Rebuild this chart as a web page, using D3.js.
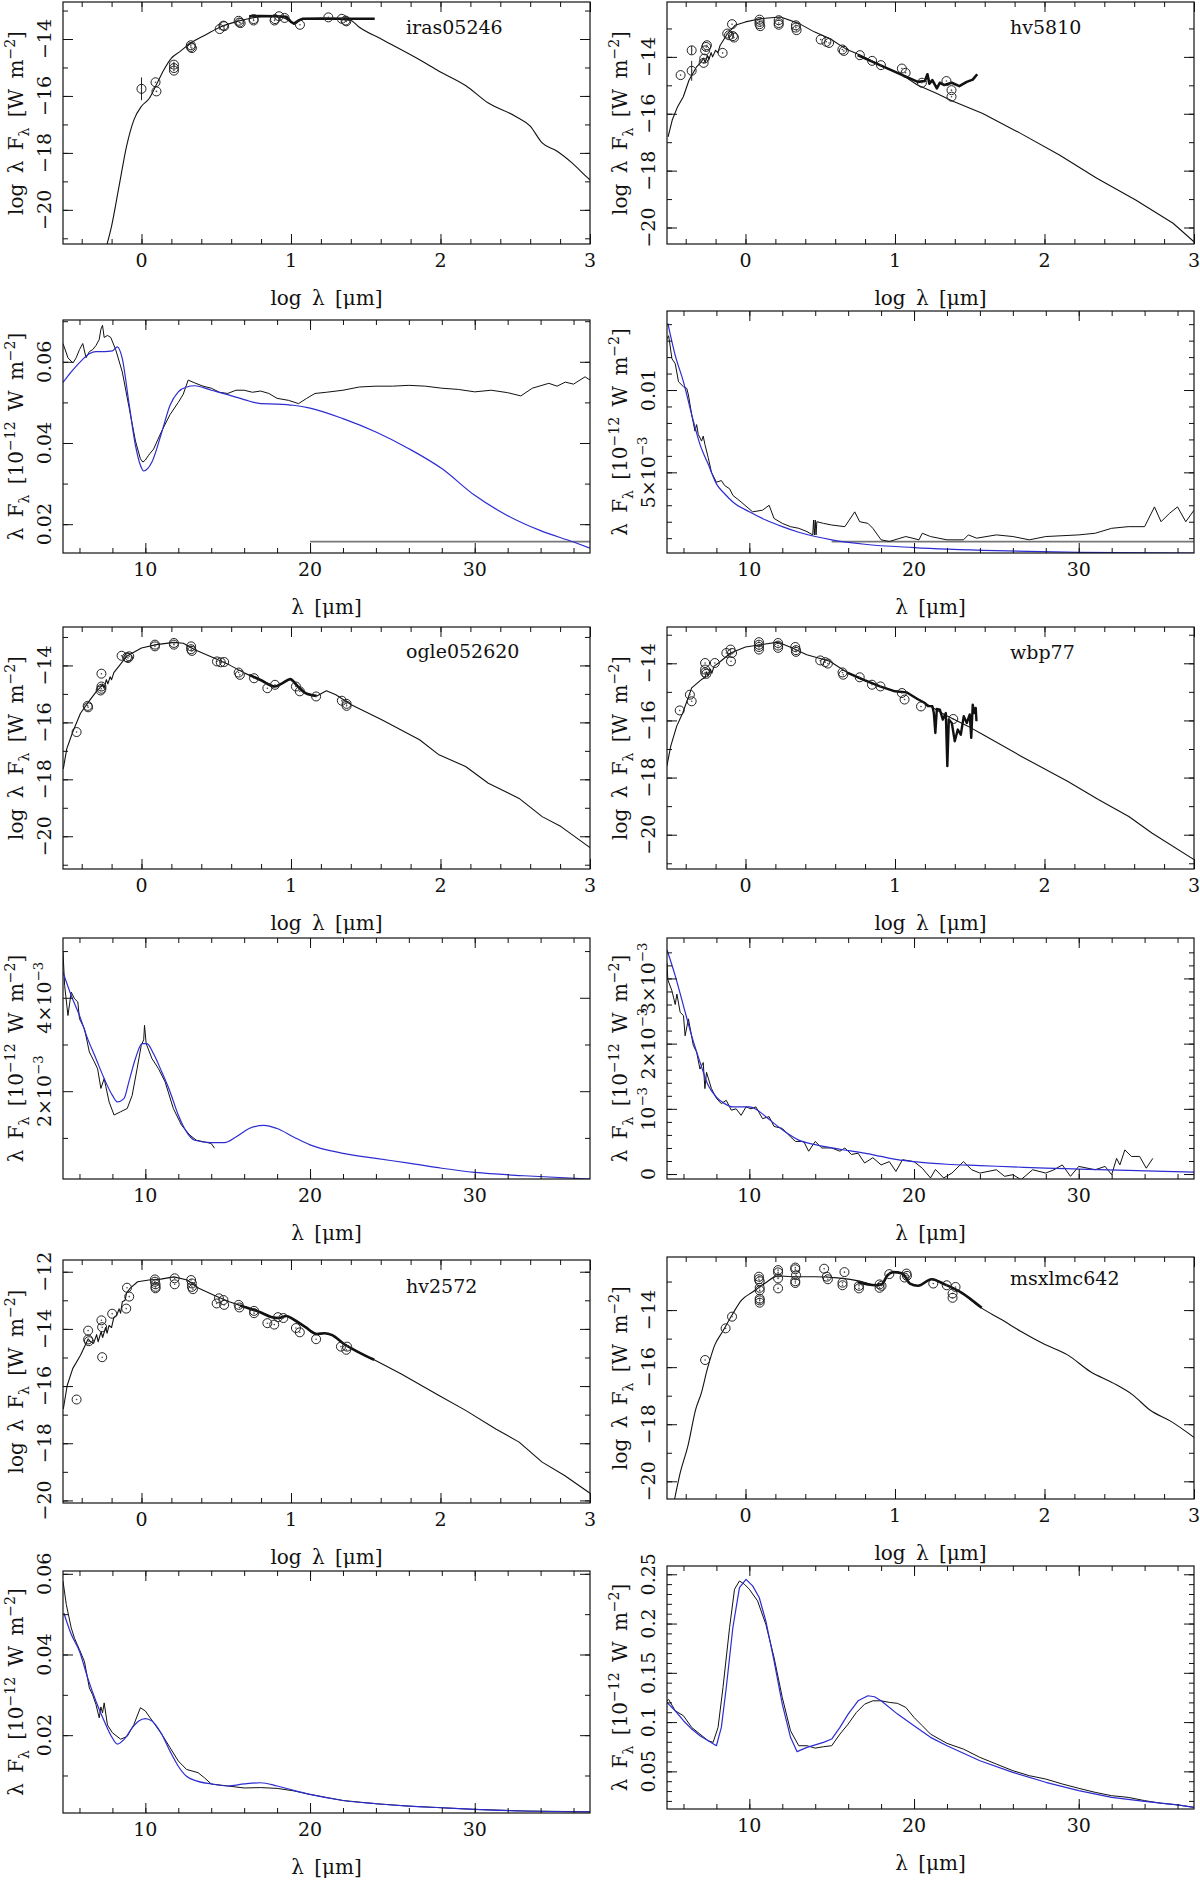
<!DOCTYPE html>
<html>
<head>
<meta charset="utf-8">
<script src="https://cdn.jsdelivr.net/npm/d3@7"></script>
<style>
  body { margin: 0; background: #fff; }
  text { font-family: "DejaVu Serif", "Liberation Serif", serif; fill: #111; }
</style>
</head>
<body>
<svg id="fig" width="1200" height="1881"></svg>
<script>
// ---- iras05246 ----
const irasModel = [[-0.23,-21.2],[-0.2,-20.57],[-0.15,-19.17],[-0.1,-17.77],[-0.05,-16.83],[0,-16.36],[0.05,-16.1],[0.1,-15.6],[0.15,-15.08],[0.2,-14.67],[0.255,-14.45],[0.33,-14.14],[0.43,-13.85],[0.535,-13.56],[0.64,-13.38],[0.74,-13.26],[0.84,-13.2],[0.94,-13.23],[1.0,-13.4],[1.03,-13.46],[1.07,-13.3],[1.2,-13.28],[1.4,-13.35],[1.45,-13.56],[1.61,-14.02],[1.86,-14.73],[1.99,-15.13],[2.17,-15.64],[2.32,-16.25],[2.5,-16.71],[2.6,-17.06],[2.68,-17.65],[2.78,-17.94],[2.88,-18.35],[2.985,-18.88],[3.0,-18.95]];
const irasIRS = [[0.72,-13.2],[0.8,-13.19],[0.9,-13.2],[0.97,-13.22],[1.0,-13.4],[1.02,-13.46],[1.05,-13.35],[1.08,-13.29],[1.2,-13.28],[1.4,-13.29],[1.56,-13.29]];
const irasPhot = [[0.0,-15.75,0.4],[0.094,-15.52,0],[0.1,-15.84,0],[0.217,-14.9,0.1],[0.217,-15.02,0],[0.217,-15.11,0],[0.33,-14.22,0],[0.33,-14.28,0],[0.337,-14.32,0],[0.523,-13.65,0],[0.548,-13.53,0],[0.553,-13.55,0],[0.65,-13.36,0],[0.655,-13.42,0],[0.663,-13.44,0],[0.75,-13.3,0],[0.75,-13.35,0],[0.89,-13.35,0],[0.893,-13.3,0],[0.92,-13.2,0],[0.957,-13.26,0],[1.06,-13.5,0],[1.25,-13.24,0],[1.34,-13.29,0],[1.365,-13.35,0],[1.37,-13.38,0]];
const irasSpec = [[5.0,0.0645],[5.3,0.061],[5.6,0.0597],[5.8,0.061],[6.0,0.063],[6.2,0.0645],[6.4,0.061],[6.6,0.0625],[6.8,0.063],[7.0,0.064],[7.2,0.0655],[7.3,0.068],[7.4,0.069],[7.5,0.066],[7.7,0.0665],[7.9,0.066],[8.2,0.063],[8.6,0.0575],[9.0,0.049],[9.4,0.0405],[9.7,0.0361],[9.85,0.0353],[10.0,0.0358],[10.2,0.037],[10.5,0.0385],[11.0,0.043],[11.5,0.047],[12.0,0.05],[12.3,0.052],[12.6,0.0555],[13.0,0.0548],[13.5,0.054],[14.0,0.0535],[14.5,0.0525],[15.0,0.0522],[15.5,0.053],[16.0,0.053],[16.5,0.0525],[17.0,0.0528],[17.5,0.0522],[18.0,0.051],[18.7,0.0505],[19.3,0.0497],[19.8,0.051],[20.3,0.0522],[21,0.0525],[22,0.053],[23,0.0538],[24,0.054],[25,0.054],[26,0.0542],[27,0.054],[28,0.0535],[29,0.0532],[30,0.0526],[31,0.053],[32,0.0524],[32.8,0.0516],[33.5,0.0535],[34.5,0.0547],[35,0.054],[35.5,0.055],[36,0.0545],[36.7,0.0563],[37,0.0555]];
const irasFit = [[5.0,0.0549],[5.5,0.0575],[6.0,0.0598],[6.6,0.062],[7.0,0.0625],[7.5,0.0625],[8.0,0.0627],[8.3,0.0637],[8.6,0.0608],[9.0,0.05],[9.4,0.0394],[9.7,0.0345],[9.9,0.0331],[10.4,0.0353],[11.0,0.0427],[11.5,0.0493],[12.0,0.0526],[12.5,0.0538],[13.0,0.0541],[14.0,0.053],[15.0,0.0519],[16.0,0.0507],[17.0,0.0497],[18.0,0.0496],[19.0,0.0493],[20.0,0.0486],[22.0,0.046],[24.0,0.0427],[26.0,0.0386],[28.0,0.0337],[30.0,0.0271],[32.0,0.0221],[34.0,0.0184],[36.0,0.0156],[37.0,0.0141]];
const irasLevel = [[20, 0.0157], [37, 0.0157]];

// ---- hv5810 ----
const hv5810Model = [[-0.518,-16.81],[-0.49,-16.22],[-0.454,-15.75],[-0.416,-15.4],[-0.378,-14.82],[-0.327,-14.35],[-0.3,-14.2],[-0.28,-14.05],[-0.27,-14.2],[-0.255,-13.95],[-0.245,-14.1],[-0.23,-13.85],[-0.22,-14.0],[-0.2,-13.77],[-0.185,-13.85],[-0.17,-13.6],[-0.12,-13.18],[-0.07,-12.89],[0,-12.77],[0.107,-12.65],[0.235,-12.6],[0.36,-12.83],[0.46,-13.12],[0.566,-13.36],[0.668,-13.71],[0.77,-13.94],[0.9,-14.29],[1.05,-14.64],[1.15,-14.99],[1.28,-15.29],[1.38,-15.54],[1.587,-15.99],[1.84,-16.69],[2.1,-17.45],[2.35,-18.27],[2.61,-19.03],[2.86,-19.85],[3.0,-20.5]];
const hv5810IRS = [[0.75,-13.94],[0.9,-14.29],[1.05,-14.64],[1.153,-14.88],[1.2,-14.85],[1.217,-14.61],[1.23,-14.94],[1.25,-14.82],[1.28,-15.11],[1.3,-14.91],[1.33,-14.99],[1.38,-14.91],[1.43,-15.03],[1.48,-14.88],[1.52,-14.8],[1.55,-14.61]];
const hv5810Phot = [[-0.434,-14.64,0],[-0.36,-14.49,0.35],[-0.36,-13.77,0.15],[-0.28,-14.21,0],[-0.276,-14.06,0],[-0.27,-13.77,0],[-0.263,-13.65,0],[-0.258,-13.59,0],[-0.153,-13.86,0],[-0.122,-13.18,0],[-0.11,-13.24,0],[-0.09,-12.85,0],[-0.084,-13.27,0.1],[-0.077,-13.32,0],[0.094,-12.69,0],[0.094,-12.77,0],[0.094,-12.85,0],[0.099,-12.92,0],[0.222,-12.71,0],[0.222,-12.81,0],[0.222,-12.87,0],[0.337,-12.89,0],[0.337,-12.97,0],[0.342,-13.06,0],[0.503,-13.39,0],[0.541,-13.47,0],[0.559,-13.51,0],[0.648,-13.74,0],[0.658,-13.79,0],[0.765,-13.94,0],[0.847,-14.14,0],[0.906,-14.29,0],[1.046,-14.41,0],[1.071,-14.56,0],[1.18,-14.91,0],[1.344,-14.85,0],[1.378,-15.17,0],[1.378,-15.4,0]];
const hv5810Spec = [[5.0,0.0131],[5.1,0.0133],[5.3,0.0119],[5.5,0.0116],[5.7,0.0105],[6.0,0.0102],[6.2,0.0101],[6.3,0.0097],[6.5,0.0085],[6.7,0.0075],[6.8,0.0079],[6.9,0.0073],[7.1,0.0069],[7.2,0.0072],[7.3,0.0067],[7.5,0.0059],[7.7,0.005],[8.0,0.0044],[8.3,0.0045],[8.5,0.0042],[8.8,0.004],[9.0,0.0036],[9.5,0.0032],[10.2,0.0026],[10.8,0.0027],[11.2,0.003],[11.5,0.0022],[12.0,0.0019],[12.5,0.0017],[13.0,0.0016],[13.5,0.0014],[13.85,0.0012],[13.9,0.0021],[13.95,0.0012],[14.0,0.0021],[14.05,0.0012],[14.1,0.002],[14.5,0.0019],[15.0,0.0018],[15.8,0.0017],[16.4,0.0026],[16.7,0.002],[17.2,0.0019],[17.5,0.0016],[18.0,0.0009],[18.5,0.0008],[19.5,0.0011],[20.3,0.0009],[20.5,0.0013],[21,0.0011],[22,0.0009],[23,0.0009],[23.3,0.0012],[23.8,0.001],[25,0.0012],[26,0.0011],[27,0.0009],[28,0.0011],[30,0.0012],[31,0.0013],[32,0.0016],[33,0.0017],[34,0.0017],[34.6,0.0029],[35,0.002],[35.5,0.0025],[36,0.0029],[36.5,0.002],[37,0.0027]];
const hv5810Fit = [[5.05,0.01405],[5.5,0.0121],[6.0,0.0105],[6.5,0.0085],[7.0,0.0067],[7.5,0.0055],[8.0,0.0043],[8.5,0.0037],[9.0,0.0032],[10,0.0026],[11,0.0021],[12,0.0017],[13,0.00136],[14,0.0011],[15,0.0009],[17,0.00063],[20,0.00043],[25,0.00024],[30,0.00014],[37,0.0001]];
const hv5810Level = [[15, 0.00079], [37, 0.00079]];

// ---- ogle052620 ----
const ogleModel = [[-0.523,-17.63],[-0.5,-16.93],[-0.46,-16.34],[-0.408,-15.68],[-0.344,-15.21],[-0.3,-14.9],[-0.28,-14.8],[-0.26,-14.65],[-0.25,-14.8],[-0.235,-14.5],[-0.225,-14.65],[-0.21,-14.4],[-0.2,-14.5],[-0.185,-14.25],[-0.153,-14.04],[-0.1,-13.68],[0,-13.39],[0.1,-13.27],[0.217,-13.19],[0.28,-13.22],[0.357,-13.45],[0.485,-13.74],[0.587,-13.98],[0.69,-14.27],[0.79,-14.5],[0.893,-14.74],[0.944,-14.62],[0.995,-14.48],[1.046,-14.74],[1.097,-14.97],[1.173,-15.07],[1.237,-14.89],[1.3,-15.03],[1.403,-15.38],[1.607,-15.91],[1.86,-16.61],[1.99,-17.14],[2.168,-17.55],[2.32,-18.14],[2.526,-18.67],[2.68,-19.31],[2.806,-19.66],[3.0,-20.4]];
const ogleIRS = [[0.72,-14.33],[0.8,-14.52],[0.893,-14.74],[0.944,-14.62],[0.995,-14.48],[1.046,-14.74],[1.097,-14.97],[1.17,-15.07]];
const oglePhot = [[-0.434,-16.34,0],[-0.36,-15.42,0],[-0.357,-15.47,0],[-0.268,-14.29,0],[-0.268,-14.74,0],[-0.268,-14.82,0],[-0.273,-14.88,0],[-0.133,-13.66,0],[-0.097,-13.71,0],[-0.082,-13.68,0],[-0.09,-13.74,0],[0.09,-13.27,0],[0.09,-13.33,0],[0.217,-13.21,0],[0.217,-13.27,0],[0.332,-13.33,0],[0.332,-13.43,0],[0.337,-13.49,0],[0.505,-13.86,0],[0.53,-13.89,0],[0.553,-13.88,0],[0.65,-14.25,0],[0.658,-14.33,0],[0.753,-14.45,0],[0.842,-14.8,0],[0.893,-14.68,0],[1.033,-14.74,0],[1.059,-14.91,0],[1.168,-15.09,0],[1.34,-15.24,0],[1.372,-15.35,0],[1.372,-15.42,0]];
const ogleSpec = [[5.0,4.98e-3],[5.1,4.26e-3],[5.3,3.62e-3],[5.5,4.12e-3],[5.7,3.98e-3],[5.9,3.91e-3],[6.0,3.55e-3],[6.3,3.34e-3],[6.6,2.84e-3],[6.9,2.63e-3],[7.1,2.48e-3],[7.3,2.06e-3],[7.5,2.27e-3],[7.6,2.1e-3],[7.8,1.77e-3],[8.1,1.49e-3],[8.5,1.56e-3],[8.9,1.63e-3],[9.2,1.91e-3],[9.5,2.48e-3],[9.75,2.98e-3],[9.9,3.1e-3],[9.95,3.41e-3],[10.05,3.02e-3],[10.4,2.7e-3],[10.8,2.48e-3],[11.2,2.2e-3],[11.7,1.63e-3],[12.2,1.27e-3],[12.7,1.06e-3],[13.1,0.95e-3],[13.5,0.92e-3],[14.0,0.88e-3],[14.2,0.78e-3]];
const ogleFit = [[5.0,4.55e-3],[5.5,4.05e-3],[6,3.62e-3],[6.5,3.12e-3],[7,2.7e-3],[7.5,2.27e-3],[8,1.91e-3],[8.3,1.77e-3],[8.7,1.84e-3],[9.0,2.2e-3],[9.4,2.7e-3],[9.8,3.02e-3],[10.1,3.02e-3],[10.5,2.8e-3],[11,2.41e-3],[11.5,1.99e-3],[12,1.49e-3],[12.5,1.13e-3],[13,0.95e-3],[14,0.9e-3],[14.8,0.9e-3],[15.5,1.02e-3],[16.3,1.2e-3],[17.2,1.27e-3],[18,1.2e-3],[19,1.02e-3],[20,0.85e-3],[22,0.67e-3],[24,0.56e-3],[26,0.46e-3],[28,0.35e-3],[30,0.26e-3],[33,0.19e-3],[37,0.12e-3]];

// ---- wbp77 ----
const wbpModel = [[-0.526,-17.6],[-0.5,-16.9],[-0.46,-16.2],[-0.42,-15.74],[-0.36,-14.86],[-0.295,-14.57],[-0.27,-14.5],[-0.26,-14.3],[-0.25,-14.45],[-0.235,-14.2],[-0.225,-14.35],[-0.21,-14.1],[-0.18,-13.99],[-0.1,-13.64],[0,-13.43],[0.1,-13.35],[0.218,-13.26],[0.31,-13.46],[0.41,-13.7],[0.564,-13.93],[0.667,-14.28],[0.77,-14.55],[0.897,-14.81],[1.0,-14.98],[1.077,-15.02],[1.18,-15.33],[1.333,-15.8],[1.487,-16.2],[1.59,-16.5],[1.846,-17.26],[2.154,-18.13],[2.36,-18.77],[2.564,-19.36],[2.718,-19.94],[3.0,-20.87]];
const wbpIRS = [[0.68,-14.33],[0.8,-14.6],[0.9,-14.81],[1.0,-14.98],[1.08,-15.02],[1.15,-15.25],[1.2,-15.39],[1.22,-15.5],[1.25,-15.5],[1.26,-15.75],[1.27,-16.44],[1.28,-15.6],[1.3,-15.62],[1.32,-15.97],[1.34,-15.74],[1.35,-17.6],[1.36,-15.97],[1.38,-16.09],[1.4,-16.73],[1.42,-16.32],[1.44,-16.5],[1.46,-15.85],[1.48,-16.09],[1.5,-15.79],[1.51,-16.61],[1.52,-15.45],[1.53,-15.74],[1.54,-15.56],[1.545,-16.03]];
const wbpPhot = [[-0.44,-15.65,0],[-0.372,-15.1,0],[-0.36,-15.33,0],[-0.27,-13.99,0],[-0.27,-14.22,0],[-0.27,-14.32,0],[-0.262,-14.37,0],[-0.205,-13.99,0],[-0.128,-13.64,0],[-0.1,-13.52,0],[-0.09,-13.64,0],[-0.097,-13.93,0],[0.09,-13.26,0],[0.09,-13.35,0],[0.09,-13.43,0],[0.09,-13.52,0],[0.218,-13.29,0],[0.218,-13.38,0],[0.218,-13.46,0],[0.333,-13.43,0],[0.338,-13.54,0],[0.338,-13.6,0],[0.5,-13.9,0],[0.533,-13.96,0],[0.551,-14.01,0],[0.649,-14.32,0],[0.654,-14.4,0],[0.764,-14.49,0],[0.846,-14.75,0],[0.903,-14.81,0],[1.046,-15.04,0],[1.064,-15.27,0],[1.174,-15.51,0],[1.39,-15.95,0]];
const wbpSpec = [[5.0,3.24e-3],[5.05,2.98e-3],[5.3,2.81e-3],[5.5,2.6e-3],[5.6,2.76e-3],[5.8,2.48e-3],[6.0,2.43e-3],[6.1,2.12e-3],[6.3,2.38e-3],[6.6,1.97e-3],[6.8,1.87e-3],[7.0,1.61e-3],[7.2,1.71e-3],[7.3,1.31e-3],[7.4,1.56e-3],[7.7,1.31e-3],[8.0,1.16e-3],[8.3,1.08e-3],[8.6,1.13e-3],[8.9,0.98e-3],[9.2,1.0e-3],[9.5,0.9e-3],[9.8,1.03e-3],[10.1,1.0e-3],[10.4,1.03e-3],[10.8,0.85e-3],[11.2,0.88e-3],[11.5,0.73e-3],[12,0.7e-3],[12.5,0.57e-3],[12.8,0.5e-3],[13.3,0.5e-3],[13.6,0.35e-3],[14,0.5e-3],[14.4,0.4e-3],[15,0.4e-3],[15.5,0.35e-3],[15.8,0.4e-3],[16.2,0.3e-3],[16.6,0.32e-3],[17,0.17e-3],[17.5,0.25e-3],[18,0.14e-3],[18.5,0.19e-3],[18.9,0.04e-3],[19.3,0.22e-3],[20,0.19e-3],[20.5,0.09e-3],[21,-0.06e-3],[21.3,0.07e-3],[21.8,-0.06e-3],[22.3,0.015e-3],[23,0.19e-3],[23.5,0.066e-3],[24,0.015e-3],[25,0.066e-3],[25.5,-0.035e-3],[26,-0.01e-3],[26.5,-0.086e-3],[27.2,0.066e-3],[28,0.015e-3],[28.5,0.066e-3],[29,0.14e-3],[29.5,-0.035e-3],[30,0.117e-3],[31,0.066e-3],[31.6,0.117e-3],[32,-0.01e-3],[32.3,0.24e-3],[32.5,0.14e-3],[32.8,0.37e-3],[33.2,0.27e-3],[33.7,0.27e-3],[34.1,0.09e-3],[34.5,0.24e-3]];
const wbpFit = [[5.0,3.44e-3],[5.5,3.04e-3],[6,2.58e-3],[6.5,2.12e-3],[7,1.72e-3],[7.5,1.36e-3],[8,1.18e-3],[8.5,1.08e-3],[9,1.03e-3],[9.5,1.03e-3],[10,1.03e-3],[10.5,0.98e-3],[11,0.88e-3],[12,0.68e-3],[13,0.52e-3],[14,0.45e-3],[15,0.4e-3],[16,0.36e-3],[17,0.32e-3],[18,0.27e-3],[19,0.22e-3],[20,0.19e-3],[22,0.15e-3],[24,0.13e-3],[26,0.11e-3],[28,0.09e-3],[30,0.076e-3],[33,0.056e-3],[37,0.03e-3]];

// ---- hv2572 ----
const hv2572Model = [[-0.523,-16.8],[-0.497,-15.98],[-0.46,-15.39],[-0.408,-14.92],[-0.357,-14.35],[-0.34,-14.45],[-0.32,-14.5],[-0.3,-14.2],[-0.29,-14.45],[-0.27,-14.1],[-0.26,-14.3],[-0.24,-13.95],[-0.23,-14.15],[-0.217,-13.88],[-0.2,-13.95],[-0.185,-13.6],[-0.166,-13.53],[-0.15,-13.3],[-0.14,-13.45],[-0.128,-13.05],[-0.11,-13.0],[-0.1,-12.75],[-0.077,-12.58],[-0.026,-12.35],[0.05,-12.29],[0.128,-12.26],[0.217,-12.18],[0.306,-12.29],[0.383,-12.58],[0.485,-12.82],[0.587,-13.05],[0.689,-13.23],[0.79,-13.41],[0.867,-13.58],[0.918,-13.62],[0.97,-13.55],[1.02,-13.68],[1.097,-13.94],[1.173,-14.18],[1.224,-14.15],[1.276,-14.22],[1.352,-14.52],[1.454,-14.82],[1.556,-15.08],[1.735,-15.57],[1.99,-16.33],[2.168,-16.85],[2.37,-17.5],[2.526,-17.96],[2.68,-18.66],[2.83,-19.13],[3.0,-19.75]];
const hv2572IRS = [[0.66,-13.18],[0.79,-13.41],[0.867,-13.58],[0.918,-13.62],[0.97,-13.55],[1.02,-13.68],[1.097,-13.94],[1.173,-14.18],[1.224,-14.15],[1.276,-14.22],[1.352,-14.52],[1.454,-14.82],[1.556,-15.08]];
const hv2572Phot = [[-0.434,-16.47,0],[-0.357,-14.06,0],[-0.357,-14.37,0],[-0.352,-14.43,0],[-0.268,-13.7,0],[-0.263,-13.94,0],[-0.263,-14.99,0],[-0.196,-13.47,0],[-0.102,-13.29,0],[-0.097,-12.56,0],[-0.082,-12.87,0],[0.09,-12.27,0],[0.09,-12.35,0],[0.094,-12.44,0],[0.094,-12.53,0],[0.094,-12.58,0],[0.222,-12.23,0],[0.222,-12.44,0],[0.332,-12.29,0],[0.337,-12.41,0],[0.337,-12.53,0],[0.344,-12.61,0],[0.503,-13.11,0],[0.518,-12.93,0],[0.548,-12.99,0],[0.553,-13.16,0],[0.65,-13.16,0],[0.655,-13.25,0],[0.753,-13.37,0],[0.753,-13.45,0],[0.842,-13.8,0],[0.888,-13.85,0],[0.913,-13.59,0],[0.949,-13.62,0],[1.033,-13.97,0],[1.059,-14.12,0],[1.168,-14.36,0],[1.334,-14.62,0],[1.37,-14.73,0],[1.375,-14.62,0]];
const hv2572Spec = [[5.0,0.0582],[5.2,0.0524],[5.5,0.0466],[5.7,0.044],[6.0,0.0412],[6.3,0.0383],[6.6,0.0317],[6.8,0.03],[7.0,0.0276],[7.2,0.0243],[7.3,0.027],[7.4,0.0255],[7.5,0.028],[7.7,0.0225],[8,0.0206],[8.5,0.019],[8.9,0.0197],[9.3,0.0226],[9.7,0.0268],[10.0,0.026],[10.5,0.0231],[11,0.0202],[11.5,0.0169],[12,0.0136],[12.5,0.0115],[13.2,0.0107],[13.6,0.0094],[14,0.0079],[15,0.0074],[16,0.0069],[17,0.007],[18,0.0068],[19,0.0062],[20,0.0053],[22,0.0038],[24,0.003],[26,0.0024],[28,0.002],[30,0.0016],[33,0.0012],[37,0.001]];
const hv2572Fit = [[5.05,0.0503],[5.5,0.045],[6,0.0408],[6.5,0.0342],[7,0.0284],[7.5,0.0235],[8,0.0193],[8.3,0.0178],[8.7,0.0189],[9.2,0.0218],[9.6,0.0235],[10,0.0241],[10.4,0.0235],[11,0.0202],[11.5,0.016],[12,0.0123],[12.5,0.0098],[13,0.0088],[14,0.0079],[15,0.0074],[16,0.0079],[17,0.0082],[18,0.0074],[19,0.0063],[20,0.0053],[22,0.0038],[24,0.003],[26,0.0024],[28,0.002],[30,0.0016],[33,0.0012],[37,0.001]];

// ---- msxlmc642 ----
const msxModel = [[-0.474,-20.62],[-0.436,-19.69],[-0.385,-18.76],[-0.333,-17.48],[-0.295,-16.9],[-0.256,-16.08],[-0.205,-15.22],[-0.154,-14.76],[-0.09,-14.17],[-0.026,-13.65],[0.05,-13.36],[0.128,-13.07],[0.218,-12.8],[0.308,-12.83],[0.462,-12.83],[0.615,-12.87],[0.77,-12.99],[0.87,-13.13],[0.91,-13.1],[0.95,-12.78],[0.987,-12.67],[1.05,-12.72],[1.1,-13.07],[1.154,-13.15],[1.244,-12.92],[1.333,-13.1],[1.436,-13.36],[1.564,-13.88],[1.718,-14.35],[1.846,-14.76],[2.0,-15.2],[2.154,-15.57],[2.308,-16.16],[2.46,-16.56],[2.59,-16.97],[2.705,-17.5],[2.846,-17.9],[3.0,-18.46]];
const msxIRS = [[0.75,-13.02],[0.87,-13.13],[0.91,-13.1],[0.95,-12.78],[0.987,-12.67],[1.05,-12.72],[1.1,-13.07],[1.154,-13.15],[1.244,-12.92],[1.333,-13.1],[1.436,-13.36],[1.58,-13.92]];
const msxPhot = [[-0.27,-15.75,0],[-0.133,-14.64,0],[-0.09,-14.23,0],[0.09,-12.83,0],[0.09,-12.92,0],[0.095,-12.99,0],[0.095,-13.22,0],[0.095,-13.31,0],[0.095,-13.6,0],[0.095,-13.66,0],[0.095,-13.74,0],[0.218,-12.6,0],[0.218,-12.68,0],[0.218,-12.89,0],[0.218,-13.24,0],[0.333,-12.51,0],[0.333,-12.57,0],[0.338,-12.78,0],[0.333,-12.99,0],[0.333,-13.05,0],[0.526,-12.55,0],[0.544,-12.83,0],[0.551,-12.92,0],[0.662,-12.67,0],[0.649,-13.04,0],[0.649,-13.13,0],[0.759,-13.15,0],[0.759,-13.24,0],[0.897,-13.1,0],[0.897,-13.22,0],[0.91,-13.15,0],[0.962,-12.74,0],[1.064,-12.86,0],[1.077,-12.72,0],[1.08,-12.8,0],[1.256,-13.07,0],[1.346,-13.13,0],[1.385,-13.42,0],[1.385,-13.57,0],[1.405,-13.19,0]];
const msxSpec = [[5.0,0.1216],[5.1,0.123],[5.5,0.1115],[6,0.1064],[6.5,0.0946],[7,0.0878],[7.5,0.0811],[7.8,0.0794],[8.1,0.0946],[8.4,0.1351],[8.8,0.196],[9.1,0.2348],[9.4,0.2432],[9.7,0.2399],[10,0.2348],[10.5,0.223],[11,0.1993],[11.5,0.1655],[12,0.125],[12.5,0.0912],[13,0.076],[13.5,0.076],[14,0.0736],[14.5,0.075],[15,0.076],[15.5,0.0878],[16,0.098],[16.5,0.1098],[17,0.1182],[17.5,0.1216],[18,0.1216],[18.5,0.12],[19,0.119],[19.5,0.1149],[20,0.1047],[20.5,0.0963],[21,0.0878],[22,0.0784],[23,0.0726],[24,0.0642],[25,0.0574],[26,0.0507],[27,0.0456],[28,0.0422],[29,0.0372],[30,0.0328],[31,0.0287],[32,0.0253],[33,0.0236],[34,0.0203],[35,0.0176],[36,0.016],[37,0.0135]];
const msxFit = [[5.0,0.12],[5.5,0.1115],[6,0.1014],[6.5,0.0929],[7,0.0861],[7.5,0.0811],[8.0,0.076],[8.3,0.0946],[8.6,0.1351],[9.0,0.196],[9.4,0.2365],[9.8,0.2449],[10.2,0.2382],[10.6,0.2264],[11,0.2027],[11.5,0.1622],[12,0.1182],[12.5,0.0845],[12.9,0.07],[13.5,0.0743],[14.5,0.0794],[15,0.0828],[15.5,0.0946],[16,0.1081],[16.6,0.1216],[17.2,0.1267],[17.6,0.1257],[18,0.1216],[19,0.1081],[20,0.0963],[21,0.0845],[22,0.076],[24,0.0608],[26,0.049],[28,0.0389],[30,0.0304],[32,0.0236],[34,0.0196],[36,0.0159],[37,0.0135]];

// ---- axis ticks & labels ----
const logXMajor = [0, 1, 2, 3];
const logXMinor = d3.range(-0.4, 3.01, 0.2);
const linXMajor = [10, 20, 30];
const linXMinor = d3.range(6, 37, 2);
const irasSpecTicks = [[0.02, "0.02"], [0.04, "0.04"], [0.06, "0.06"]];
const hv5810SpecTicks = [[0.005, "5×10^{−3}"], [0.01, "0.01"]];
const ogleSpecTicks = [[0.002, "2×10^{−3}"], [0.004, "4×10^{−3}"]];
const wbpSpecTicks = [[0, "0"], [0.001, "10^{−3}"], [0.002, "2×10^{−3}"], [0.003, "3×10^{−3}"]];
const hv2572SpecTicks = [[0.02, "0.02"], [0.04, "0.04"], [0.06, "0.06"]];
const msxSpecTicks = [[0.05, "0.05"], [0.1, "0.1"], [0.15, "0.15"], [0.2, "0.2"], [0.25, "0.25"]];

const svg = d3.select("#fig");
const cols = [[63, 590], [667, 1194]];
const blue = "#2c2cd2";
const fmtLog = d3.format("d");

// text with ^{sup} and _{sub}
function rich(sel, str, fs) {
    let cur = 0;
    str.split(/(\^\{[^}]*\}|_\{[^}]*\})/).filter(s => s).forEach(p => {
        let off = 0, txt = p, small = false;
        if (p.startsWith("^{")) { off = -0.42 * fs; txt = p.slice(2, -1); small = true; }
        else if (p.startsWith("_{")) { off = 0.3 * fs; txt = p.slice(2, -1); small = true; }
        const t = sel.append("tspan").attr("dy", off - cur).text(txt);
        if (small) t.attr("font-size", fs * 0.7);
        cur = off;
    });
}

function drawPanel(p, i) {
    const [x0, x1] = cols[p.col];
    const x = d3.scaleLinear().domain(p.xdom).range([x0, x1]);
    const y = d3.scaleLinear().domain(p.ydom).range([p.bottom, p.top]);
    const g = svg.append("g");

    svg.append("clipPath").attr("id", "clip" + i)
        .append("rect")
        .attr("x", x0).attr("y", p.top)
        .attr("width", x1 - x0).attr("height", p.bottom - p.top);

    const plot = g.append("g").attr("clip-path", `url(#clip${i})`);

    p.lines.forEach(s => {
        plot.append("path")
            .datum(s.data)
            .attr("fill", "none")
            .attr("stroke", s.color)
            .attr("stroke-width", s.width)
            .attr("stroke-linejoin", "round")
            .attr("d", d3.line()
                .x(d => x(d[0]))
                .y(d => y(d[1]))
                .curve(s.smooth ? d3.curveMonotoneX : d3.curveLinear));
    });

    if (p.phot) {
        const pts = plot.selectAll(".pt")
            .data(p.phot)
            .enter().append("g");
        pts.filter(d => d[2] > 0).append("line")
            .attr("x1", d => x(d[0])).attr("x2", d => x(d[0]))
            .attr("y1", d => y(d[1] - d[2])).attr("y2", d => y(d[1] + d[2]))
            .attr("stroke", "#222").attr("stroke-width", 1);
        pts.append("circle")
            .attr("cx", d => x(d[0]))
            .attr("cy", d => y(d[1]))
            .attr("r", 4.5)
            .attr("fill", "none")
            .attr("stroke", "#222")
            .attr("stroke-width", 1);
        pts.append("circle")
            .attr("cx", d => x(d[0]))
            .attr("cy", d => y(d[1]))
            .attr("r", 0.8)
            .attr("fill", "#444");
    }

    // frame
    g.append("rect")
        .attr("x", x0).attr("y", p.top)
        .attr("width", x1 - x0).attr("height", p.bottom - p.top)
        .attr("fill", "none").attr("stroke", "#111").attr("stroke-width", 1.2);

    // inward ticks on all four sides
    const ticks = (axis, scale, vals, len, tr) => {
        const a = g.append("g").attr("transform", tr)
            .call(axis(scale).tickValues(vals).tickSize(-len).tickFormat(""));
        a.select(".domain").remove();
        a.selectAll("line").attr("stroke", "#111");
    };
    const xMaj = p.log ? logXMajor : linXMajor;
    const xMin = p.log ? logXMinor : linXMinor;
    const yMaj = p.yTicks.map(d => d[0]);
    const yMin = p.yMinor;
    [[xMin, 5], [xMaj, 10]].forEach(([v, l]) => {
        ticks(d3.axisBottom, x, v, l, `translate(0,${p.bottom})`);
        ticks(d3.axisTop, x, v, l, `translate(0,${p.top})`);
    });
    [[yMin, 5], [yMaj, 10]].forEach(([v, l]) => {
        ticks(d3.axisLeft, y, v, l, `translate(${x0},0)`);
        ticks(d3.axisRight, y, v, l, `translate(${x1},0)`);
    });

    // x tick labels
    g.selectAll(".xl")
        .data(xMaj)
        .enter().append("text")
        .attr("x", d => x(d))
        .attr("y", p.bottom + 23)
        .attr("text-anchor", "middle")
        .attr("font-size", 19)
        .text(d => d);

    // y tick labels (rotated)
    p.yTicks.forEach(([v, s]) => {
        const t = g.append("text")
            .attr("transform", `translate(${x0 - 12},${y(v)}) rotate(-90)`)
            .attr("text-anchor", "middle")
            .attr("font-size", 19);
        rich(t, s, 19);
    });

    // axis titles
    const xt = g.append("text")
        .attr("x", (x0 + x1) / 2)
        .attr("y", p.bottom + 61)
        .attr("text-anchor", "middle")
        .attr("font-size", 20)
        .attr("word-spacing", 4);
    rich(xt, p.log ? "log λ [μm]" : "λ [μm]", 20);

    const yt = g.append("text")
        .attr("transform", `translate(${x0 - 40},${(p.top + p.bottom) / 2}) rotate(-90)`)
        .attr("text-anchor", "middle")
        .attr("font-size", 20)
        .attr("word-spacing", 4);
    rich(yt, p.log ? "log λ F_{λ} [W m^{−2}]" : "λ F_{λ} [10^{−12} W m^{−2}]", 20);

    if (p.name) {
        g.append("text")
            .attr("x", x0 + 343)
            .attr("y", p.top + p.nameDy)
            .attr("font-size", 19)
            .text(p.name);
    }
}

const logYTicks = dom => d3.range(Math.ceil(dom[0] / 2) * 2, dom[1], 2).map(v => [v, fmtLog(v)]);
const logYMinor = dom => d3.range(Math.ceil(dom[0]), dom[1], 1);

const panels = [
    { col: 0, top: 2, bottom: 244, log: true, xdom: [-0.525, 3], ydom: [-21.2, -12.7], name: "iras05246", nameDy: 32,
      lines: [{ data: irasModel, color: "#111", width: 1.1, smooth: true }, { data: irasIRS, color: "#111", width: 2.6 }],
      phot: irasPhot },
    { col: 1, top: 2, bottom: 244, log: true, xdom: [-0.525, 3], ydom: [-20.58, -12.07], name: "hv5810", nameDy: 32,
      lines: [{ data: hv5810Model, color: "#111", width: 1.1 }, { data: hv5810IRS, color: "#111", width: 2.6 }],
      phot: hv5810Phot },
    { col: 0, top: 320, bottom: 553, log: false, xdom: [5, 37], ydom: [0.0129, 0.0703],
      yTicks: irasSpecTicks, yMinor: d3.range(0.02, 0.071, 0.01),
      lines: [{ data: irasLevel, color: "#777", width: 1.6 }, { data: irasSpec, color: "#111", width: 1 }, { data: irasFit, color: blue, width: 1.2, smooth: true }] },
    { col: 1, top: 311, bottom: 553, log: false, xdom: [5, 37], ydom: [0.0001, 0.0148],
      yTicks: hv5810SpecTicks, yMinor: d3.range(0.001, 0.0148, 0.001),
      lines: [{ data: hv5810Level, color: "#777", width: 1.6 }, { data: hv5810Spec, color: "#111", width: 1 }, { data: hv5810Fit, color: blue, width: 1.2, smooth: true }] },
    { col: 0, top: 627, bottom: 869, log: true, xdom: [-0.525, 3], ydom: [-21.15, -12.65], name: "ogle052620", nameDy: 31,
      lines: [{ data: ogleModel, color: "#111", width: 1.1 }, { data: ogleIRS, color: "#111", width: 2.6, smooth: true }],
      phot: oglePhot },
    { col: 1, top: 627, bottom: 869, log: true, xdom: [-0.525, 3], ydom: [-21.2, -12.73], name: "wbp77", nameDy: 32,
      lines: [{ data: wbpModel, color: "#111", width: 1.1 }, { data: wbpIRS, color: "#111", width: 2.4 }],
      phot: wbpPhot },
    { col: 0, top: 938, bottom: 1179, log: false, xdom: [5, 37], ydom: [0.00012, 0.00528],
      yTicks: ogleSpecTicks, yMinor: [0.001, 0.003, 0.005],
      lines: [{ data: ogleSpec, color: "#111", width: 1 }, { data: ogleFit, color: blue, width: 1.2, smooth: true }] },
    { col: 1, top: 938, bottom: 1179, log: false, xdom: [5, 37], ydom: [-0.000076, 0.00362],
      yTicks: wbpSpecTicks, yMinor: d3.range(0, 0.0036, 0.0002),
      lines: [{ data: wbpSpec, color: "#111", width: 1 }, { data: wbpFit, color: blue, width: 1.2, smooth: true }] },
    { col: 0, top: 1260, bottom: 1503, log: true, xdom: [-0.525, 3], ydom: [-20.09, -11.59], name: "hv2572", nameDy: 33,
      lines: [{ data: hv2572Model, color: "#111", width: 1.1 }, { data: hv2572IRS, color: "#111", width: 2.6, smooth: true }],
      phot: hv2572Phot },
    { col: 1, top: 1257, bottom: 1499, log: true, xdom: [-0.525, 3], ydom: [-20.62, -12.14], name: "msxlmc642", nameDy: 28,
      lines: [{ data: msxModel, color: "#111", width: 1.1, smooth: true }, { data: msxIRS, color: "#111", width: 2.6, smooth: true }],
      phot: msxPhot },
    { col: 0, top: 1571, bottom: 1813, log: false, xdom: [5, 37], ydom: [0.0007, 0.0607],
      yTicks: hv2572SpecTicks, yMinor: d3.range(0.01, 0.061, 0.01),
      lines: [{ data: hv2572Spec, color: "#111", width: 1 }, { data: hv2572Fit, color: blue, width: 1.2, smooth: true }] },
    { col: 1, top: 1566, bottom: 1809, log: false, xdom: [5, 37], ydom: [0.0118, 0.2584],
      yTicks: msxSpecTicks, yMinor: d3.range(0.02, 0.26, 0.01),
      lines: [{ data: msxSpec, color: "#111", width: 1 }, { data: msxFit, color: blue, width: 1.2 }] }
];

panels.forEach((p, i) => {
    if (p.log) {
        p.yTicks = logYTicks(p.ydom);
        p.yMinor = logYMinor(p.ydom);
    }
    drawPanel(p, i);
});
</script>
</body>
</html>
